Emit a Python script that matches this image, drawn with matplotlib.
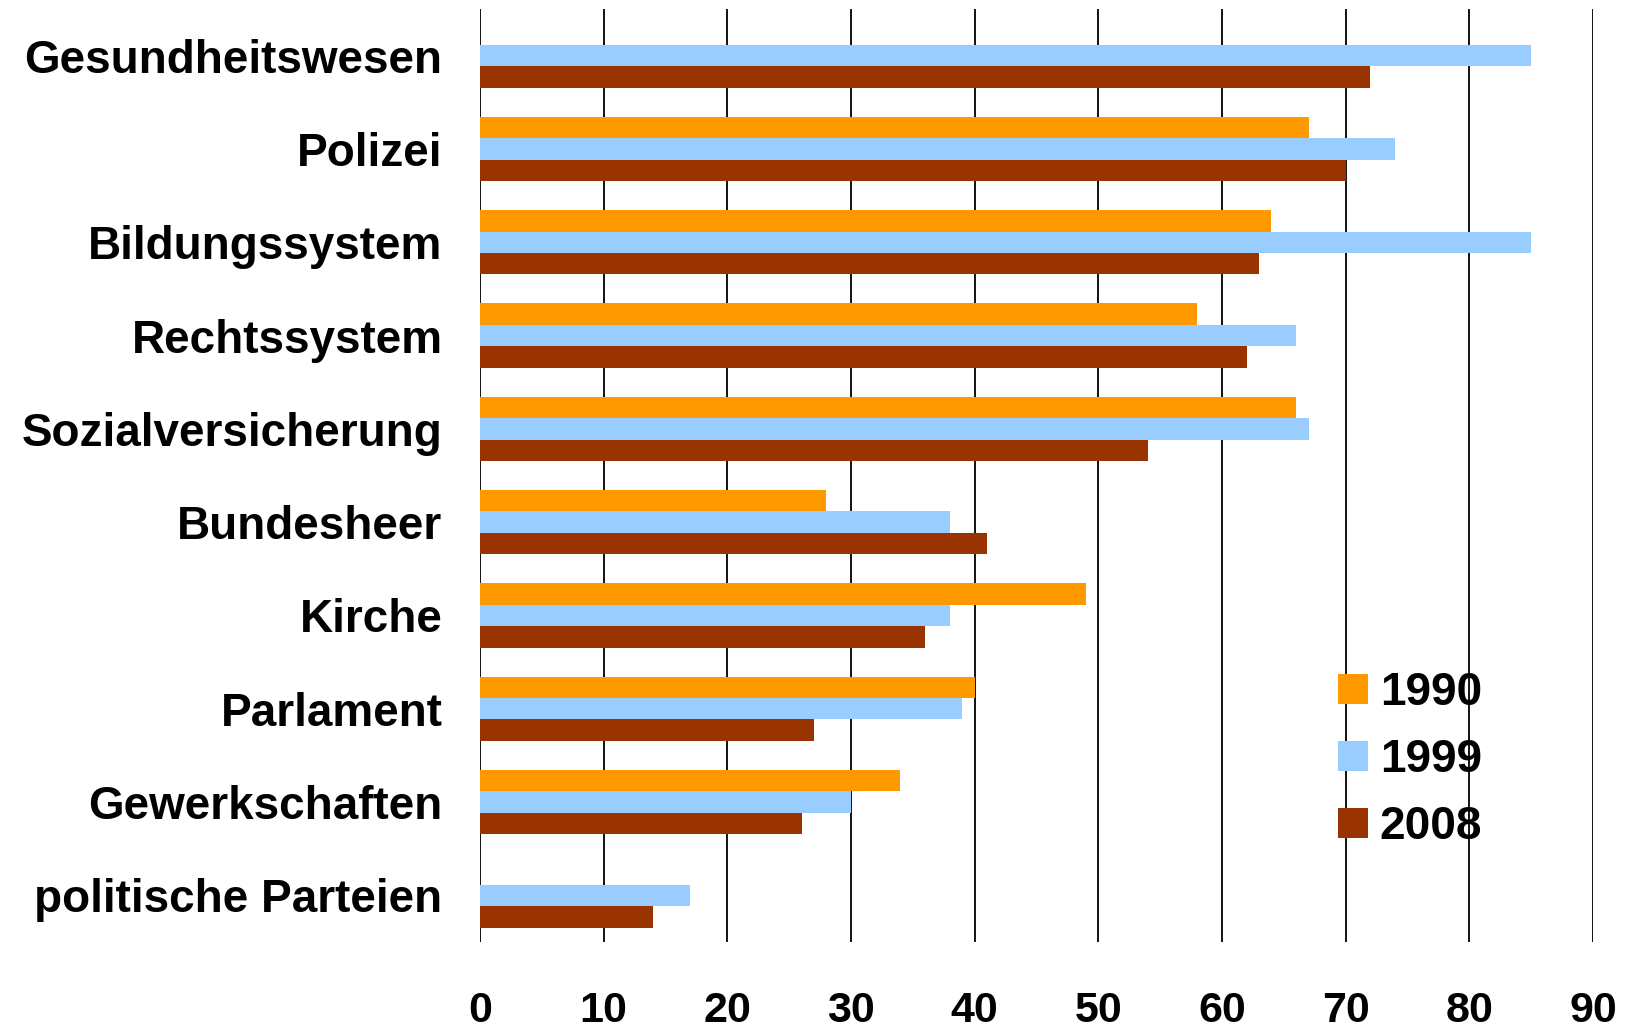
import matplotlib.pyplot as plt
import numpy as np

categories = ["Gesundheitswesen", "Polizei", "Bildungssystem", "Rechtssystem",
              "Sozialversicherung", "Bundesheer", "Kirche", "Parlament",
              "Gewerkschaften", "politische Parteien"]
years = ["1990", "1999", "2008"]
v1990 = [np.nan, 67, 64, 58, 66, 28, 49, 40, 34, np.nan]
v1999 = [85, 74, 85, 66, 67, 38, 38, 39, 30, 17]
v2008 = [72, 70, 63, 62, 54, 41, 36, 27, 26, 14]
colors = ["#FF9900", "#99CCFF", "#993300"]

plt.rcParams["font.family"] = ["Liberation Sans", "DejaVu Sans"]

fig = plt.figure(figsize=(16.31, 10.31), dpi=100)
ax = fig.add_axes([0.2943, 0.0863, 0.6824, 0.905])

y = np.arange(len(categories))
h = 0.23
for k, (vals, c, lab) in enumerate(zip([v1990, v1999, v2008], colors, years)):
    ax.barh(y + (k - 1) * h, vals, height=h, color=c, label=lab, zorder=3)

ax.set_xlim(0, 90)
ax.set_ylim(len(categories) - 0.5, -0.5)
ax.set_xticks(np.arange(0, 91, 10))
ax.set_xticklabels([str(t) for t in range(0, 91, 10)],
                   fontsize=31, fontweight="bold")
ax.set_yticks(y)
ax.set_yticklabels(categories, fontsize=33, fontweight="bold")
ax.tick_params(axis="x", length=0, pad=35)
ax.tick_params(axis="y", length=0, pad=27)

ax.grid(axis="x", color="black", linewidth=1.3, zorder=1)
for s in ax.spines.values():
    s.set_visible(False)

ax.legend(loc="upper left", bbox_to_anchor=(0.8204, 0.349),
          bbox_transform=fig.transFigure, frameon=False,
          prop={"size": 33, "weight": "bold"},
          handlelength=0.65, handleheight=0.65, handletextpad=0.26,
          labelspacing=0.5, borderpad=0, borderaxespad=0)

fig.savefig("out.png", dpi=100)
